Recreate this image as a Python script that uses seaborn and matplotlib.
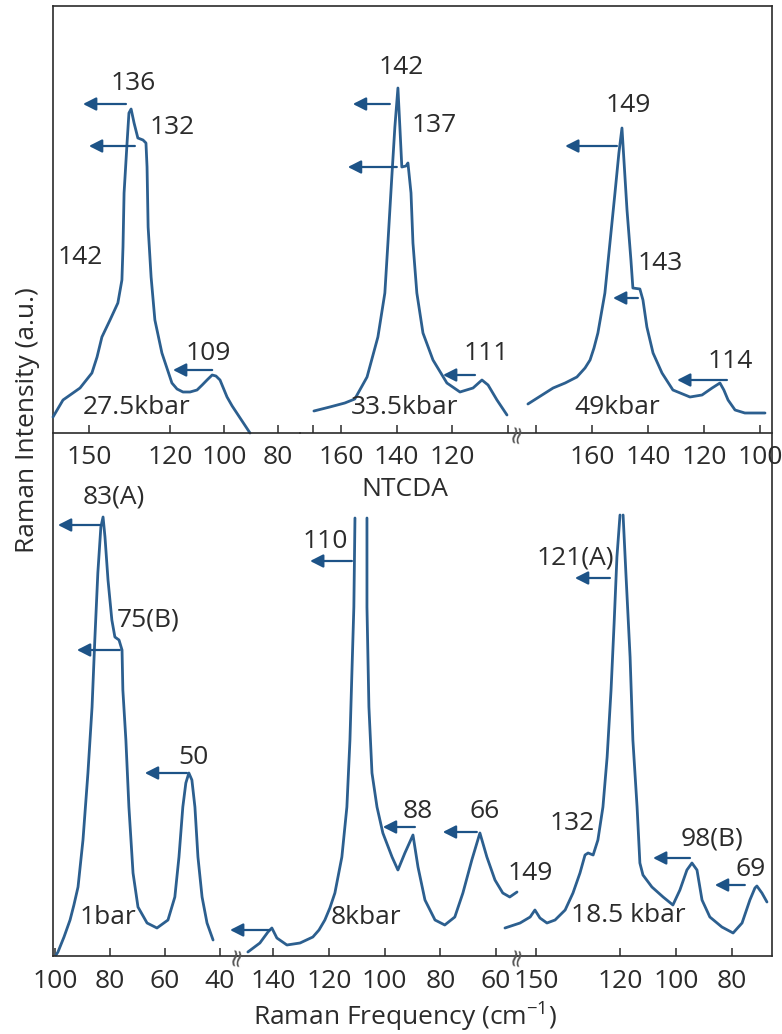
import numpy as np
import pandas as pd
import matplotlib
matplotlib.use("Agg")
import matplotlib.pyplot as plt
import seaborn as sns

sns.set_style("ticks")
plt.rcParams['font.family'] = ['Open Sans', 'DejaVu Sans']
plt.rcParams['mathtext.fontset'] = 'custom'
plt.rcParams['mathtext.rm'] = 'Open Sans'
plt.rcParams['mathtext.it'] = 'Open Sans:italic'

W, H = 782, 1034
LINE = "#2c5f8f"
ARROW = "#1d5387"
INK = "#2b2b2b"
FS = 19

# ---------------- spectra (frequency cm-1, intensity a.u.) ----------------
# upper panel
f_275 = [163.3, 159.6, 153.3, 148.9, 147.0, 145.2, 142.2, 139.3, 137.8, 137.4, 137.0,
         135.9, 135.2, 134.4, 133.3, 131.9, 130.0, 128.9, 128.5, 128.1, 127.0, 125.6,
         123.0, 119.3, 117.4, 115.2, 112.6, 110.0, 108.1, 106.3, 104.4, 103.0, 101.5,
         98.9, 97.0, 94.8, 92.6, 90.4]
i_275 = [16, 33, 45, 60, 76, 96, 113, 130, 153, 186, 240,
         290, 320, 324, 310, 295, 293, 290, 266, 206, 156, 113,
         80, 50, 44, 41, 41, 43, 48, 53, 58, 57, 53,
         36, 27, 18, 9, 0]

f_335 = [169.7, 164.0, 158.6, 155.0, 150.6, 146.7, 144.2, 143.1, 141.7, 140.6, 139.5,
         138.8, 138.1, 136.6, 135.9, 134.8, 134.1, 132.7, 130.5, 126.9, 121.9, 117.2,
         112.5, 109.3, 107.1, 103.9, 100.3]
i_335 = [22, 26, 30, 34, 56, 96, 140, 190, 256, 306, 345,
         306, 266, 267, 270, 240, 190, 140, 100, 73, 50, 41,
         45, 53, 48, 33, 18]

f_49 = [182.9, 173.9, 169.6, 165.4, 162.5, 160.7, 159.3, 157.9, 155.4, 153.6, 151.8,
        150.4, 149.3, 148.6, 147.5, 146.1, 145.4, 142.9, 141.8, 140.4, 138.2, 135.0,
        131.1, 125.0, 120.7, 117.1, 114.3, 112.9, 111.4, 108.9, 105.4, 98.2]
i_49 = [29, 45, 50, 56, 65, 73, 85, 100, 140, 190, 240,
        280, 305, 273, 223, 173, 145, 144, 133, 106, 80, 60,
        43, 36, 38, 45, 50, 43, 33, 23, 20, 20]

# lower panel
f_1 = [99.6, 98.9, 96.7, 94.5, 93.1, 91.6, 89.8, 88.0, 86.5, 85.5, 84.4, 83.3, 82.5,
       81.8, 80.7, 79.3, 78.2, 76.7, 75.6, 75.3, 74.2, 73.1, 71.6, 69.8, 66.5, 62.9,
       58.9, 56.4, 54.9, 53.5, 52.4, 51.3, 50.2, 49.1, 48.0, 46.5, 44.7, 42.5]
i_1 = [1, 4, 19, 36, 51, 69, 116, 183, 249, 316, 383, 429, 439,
       419, 376, 336, 319, 316, 306, 266, 216, 149, 83, 49, 33, 28,
       36, 59, 99, 149, 173, 183, 176, 149, 99, 59, 33, 16]

# nan marks where the strong peak runs off the drawing
f_8 = [149.0, 144.7, 141.8, 140.4, 138.6, 135.0, 130.3, 125.7, 123.5, 121.4, 119.6,
       117.8, 115.3, 113.5, 112.4, 111.7, 111.0, 110.6, np.nan,
       106.3, 106.3, 105.6, 104.5, 102.7, 100.6, 97.3, 95.2, 92.7, 89.8, 88.0, 85.5,
       81.9, 78.4, 74.8, 71.9, 68.7, 65.8, 63.3, 60.4, 57.6, 55.1, 52.5]
i_8 = [4, 13, 24, 28, 18, 11, 13, 19, 26, 36, 48,
       63, 99, 149, 216, 283, 349, 438, np.nan,
       438, 349, 249, 183, 149, 123, 99, 86, 103, 121, 89, 56,
       36, 31, 39, 63, 96, 123, 99, 76, 63, 59, 64]

f_185 = [161.1, 155.7, 152.1, 150.4, 148.6, 146.1, 143.2, 139.6, 136.8, 134.3, 132.5,
         131.4, 129.6, 127.9, 126.1, 124.6, 123.2, 122.1, 121.1, 120.0, np.nan,
         118.9, 117.9, 116.4, 115.4, 113.9, 112.9, 111.8, 108.6, 104.6, 101.1, 98.6,
         96.1, 94.3, 92.5, 90.7, 87.9, 83.6, 79.6, 76.4, 73.6, 71.8, 71.1, 69.3, 67.5]
i_185 = [28, 33, 39, 46, 38, 33, 36, 46, 63, 83, 101,
         103, 101, 116, 149, 199, 266, 333, 399, 441, np.nan,
         441, 383, 299, 216, 149, 93, 81, 69, 59, 51, 66,
         86, 93, 86, 56, 39, 29, 23, 33, 56, 68, 70, 63, 54]

# ---------------- peak labels: text, frequency, intensity ----------------
lab_275 = [("136", 133.7, 350), ("132", 119.3, 306), ("142", 153.3, 176),
           ("109", 105.9, 80), ("27.5kbar", 132.2, 25)]
lab_335 = [("142", 138.4, 365), ("137", 126.5, 307), ("111", 107.8, 80),
           ("33.5kbar", 137.0, 25)]
lab_49 = [("149", 147.1, 327), ("143", 135.7, 170), ("114", 110.7, 71),
          ("49kbar", 151.1, 25)]
lab_1 = [("83(A)", 78.5, 459), ("75(B)", 66.2, 336), ("50", 49.8, 199), ("1bar", 80.7, 38)]
lab_8 = [("110", 121.4, 415), ("88", 88.0, 144), ("66", 64.0, 144), ("8kbar", 106.7, 39)]
lab_185 = [("149", 152.1, 83), ("121(A)", 136.1, 398), ("132", 137.1, 132),
           ("98(B)", 87.1, 117), ("69", 73.2, 87), ("18.5 kbar", 117.1, 41)]

# ---------------- shift arrows: tail freq, head freq, intensity ----------------
arr_275 = [(136.3, 152.2, 329), (133.0, 150.0, 287), (104.4, 118.9, 63)]
arr_335 = [(142.4, 155.7, 329), (139.9, 157.5, 266), (111.8, 123.3, 58)]
arr_49 = [(151.1, 169.6, 287), (143.6, 152.5, 135), (111.8, 129.6, 53)]
arr_1 = [(83.6, 98.9, 431), (76.4, 92.0, 306), (52.0, 67.3, 183)]
arr_8 = [(141.1, 155.4, 26), (111.7, 126.7, 395), (89.1, 100.6, 129), (66.9, 79.1, 124)]
arr_185 = [(123.6, 136.1, 378), (95.0, 108.2, 98), (75.4, 86.1, 71)]

# ---------------- axis ticks ----------------
tk_275 = [150, 120, 100, 80]
tk_335 = [170, 160, 140, 120, 100]
tl_335 = ["", "160", "140", "120", ""]
tk_49 = [180, 160, 140, 120, 100]
tl_49 = ["", "160", "140", "120", "100"]
tk_1 = [100, 80, 60, 40]
tk_8 = [140, 120, 100, 80, 60]
tk_185 = [150, 120, 100, 80]

# segment layout in pixels: x0, x1, y0, y1 and frequency limits
segments = [
    dict(box=(53, 300, 6, 433), xlim=(163.3, 71.9), f=f_275, i=i_275, lab=lab_275, arr=arr_275,
         ticks=tk_275, tl=[str(t) for t in tk_275]),
    dict(box=(300, 517, 6, 433), xlim=(174.7, 96.7), f=f_335, i=i_335, lab=lab_335, arr=arr_335,
         ticks=tk_335, tl=tl_335),
    dict(box=(517, 772, 6, 433), xlim=(186.8, 95.7), f=f_49, i=i_49, lab=lab_49, arr=arr_49,
         ticks=tk_49, tl=tl_49),
    dict(box=(53, 237, 433, 956), xlim=(100.7, 33.8), f=f_1, i=i_1, lab=lab_1, arr=arr_1,
         ticks=tk_1, tl=[str(t) for t in tk_1]),
    dict(box=(237, 517, 433, 956), xlim=(152.9, 52.5), f=f_8, i=i_8, lab=lab_8, arr=arr_8,
         ticks=tk_8, tl=[str(t) for t in tk_8]),
    dict(box=(517, 772, 433, 956), xlim=(156.8, 65.7), f=f_185, i=i_185, lab=lab_185, arr=arr_185,
         ticks=tk_185, tl=[str(t) for t in tk_185]),
]


def px_box(x0, x1, y0, y1):
    return [x0 / W, 1 - y1 / H, (x1 - x0) / W, (y1 - y0) / H]


fig = plt.figure(figsize=(W / 100, H / 100), dpi=100)

frame = fig.add_axes(px_box(53, 772, 6, 956))
frame.set_xticks([])
frame.set_yticks([])
frame.patch.set_alpha(0)
for s in ["left", "top", "right"]:
    frame.spines[s].set_color(INK)
    frame.spines[s].set_linewidth(1.2)
frame.spines["bottom"].set_visible(False)

for seg in segments:
    x0, x1, y0, y1 = seg["box"]
    ax = fig.add_axes(px_box(x0, x1, y0, y1))
    ax.patch.set_alpha(0)
    df = pd.DataFrame({"f": seg["f"], "I": seg["i"]})
    df["piece"] = df["I"].isna().cumsum()
    df = df.dropna()
    sns.lineplot(data=df, x="f", y="I", units="piece", estimator=None, sort=False,
                 color=LINE, lw=2.0, ax=ax, clip_on=False,
                 solid_joinstyle="round", solid_capstyle="round")
    ax.set_xlim(*seg["xlim"])
    ax.set_ylim(0, y1 - y0)
    ax.set_xticks(seg["ticks"])
    ax.set_xticklabels(seg["tl"])
    ax.set_yticks([])
    ax.set_xlabel("")
    ax.set_ylabel("")
    for s in ["left", "top", "right"]:
        ax.spines[s].set_visible(False)
    ax.spines["bottom"].set_color(INK)
    ax.spines["bottom"].set_linewidth(1.2)
    ax.tick_params(axis="x", direction="in", length=6, width=1.1, color=INK,
                   labelsize=FS, labelcolor=INK, pad=9)
    for txt, fx, iy in seg["lab"]:
        ax.text(fx, iy, txt, ha="center", va="center", fontsize=FS, color=INK, clip_on=False)
    for tail, head, lev in seg["arr"]:
        ax.annotate("", xy=(head, lev), xytext=(tail, lev), annotation_clip=False,
                    arrowprops=dict(arrowstyle="-|>,head_length=0.65,head_width=0.33",
                                    color=ARROW, lw=1.6, shrinkA=0, shrinkB=0,
                                    mutation_scale=12))

# break marks on the axis
for bx, by in [(237, 956), (517, 956), (517, 433)]:
    fig.text(bx / W, 1 - by / H, "\u2248", rotation=80, fontsize=18, color="#555555",
             family="DejaVu Sans", ha="center", va="center")

fig.text(405 / W, 1 - 490 / H, "NTCDA", ha="center", va="center", fontsize=FS, color=INK)
fig.text(405 / W, 1 - 1017 / H, "Raman Frequency (cm$^{-1}$)", ha="center", va="center",
         fontsize=FS, color=INK)
fig.text(28 / W, 1 - 420 / H, "Raman Intensity (a.u.)", ha="center", va="center",
         rotation=90, fontsize=FS, color=INK)

fig.savefig("out.png", dpi=100)
